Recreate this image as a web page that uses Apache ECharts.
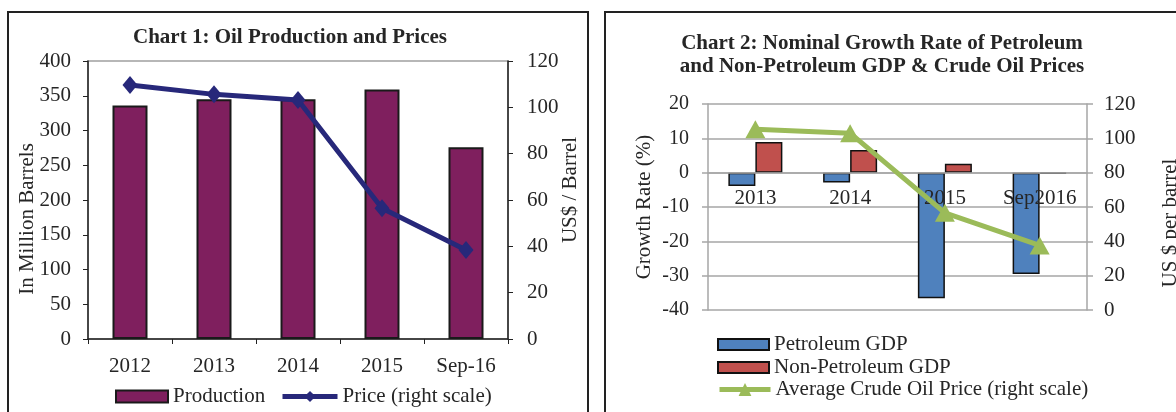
<!DOCTYPE html>
<html>
<head>
<meta charset="utf-8">
<script src="https://cdn.jsdelivr.net/npm/echarts@6/dist/echarts.min.js"></script>
<style>
  html, body { margin: 0; padding: 0; background: #fff; }
  #main { width: 1176px; height: 412px; }
</style>
</head>
<body>
<div id="main"></div>
<script>
// chart 1 data
var years1 = ['2012', '2013', '2014', '2015', 'Sep-16'];
var production = [336, 345, 345, 359, 276];
var price1 = [109.6, 105.6, 103.2, 56.4, 38.4];

// chart 2 data
var years2 = ['2013', '2014', '2015', 'Sep2016'];
var petroleumGdp = [-3.9, -2.9, -36.6, -29.5];
var nonPetroleumGdp = [8.9, 6.6, 2.6, -0.3];
var price2 = [105.3, 103, 56.6, 37.6];
var gdpMin = -40, gdpMax = 20;

var serif = 'Liberation Serif';
var ink = '#262626';
var gray = '#A6A6A6';

var grid2Height = 206;
// category axis of chart 2 sits on the 0 % line
var zeroOffset = -(0 - gdpMin) / (gdpMax - gdpMin) * grid2Height;

var myChart = echarts.init(document.getElementById('main'));

function label(size, margin) {
    return { fontFamily: serif, fontSize: size, color: ink, margin: margin };
}

function vText(txt, x, y) {
    return {
        type: 'text', x: x, y: y, rotation: Math.PI / 2,
        style: { text: txt, fontFamily: serif, fontSize: 21, fill: ink, align: 'center', verticalAlign: 'middle' }
    };
}

var legendText = { fontFamily: serif, fontSize: 21, color: ink };

var option = {
    animation: false,
    graphic: [
        { type: 'rect', shape: { x: 8, y: 12, width: 580, height: 420 }, style: { fill: 'none', stroke: '#222', lineWidth: 2 } },
        { type: 'rect', shape: { x: 605, y: 12, width: 600, height: 420 }, style: { fill: 'none', stroke: '#222', lineWidth: 2 } },
        {
            type: 'text', x: 290, y: 38,
            style: { text: 'Chart 1: Oil Production and Prices', fontFamily: serif, fontWeight: 'bold', fontSize: 21, fill: ink, align: 'center', verticalAlign: 'middle' }
        },
        {
            type: 'text', x: 882, y: 55,
            style: { text: 'Chart 2: Nominal Growth Rate of Petroleum\nand Non-Petroleum GDP & Crude Oil Prices', fontFamily: serif, fontWeight: 'bold', fontSize: 21, lineHeight: 23, fill: ink, align: 'center', verticalAlign: 'middle' }
        },
        vText('In Million Barrels', 27, 219),
        vText('US$ / Barrel', 570, 190),
        vText('Growth Rate (%)', 644, 207),
        vText('US $ per barrel', 1170, 223)
    ],
    legend: [
        {
            data: ['Production'], icon: 'rect',
            left: 115, top: 386, padding: 0,
            itemWidth: 52, itemHeight: 12,
            textStyle: legendText
        },
        {
            data: [{ name: 'Price (right scale)', lineStyle: { width: 5 } }],
            left: 280, top: 386, padding: 0,
            itemWidth: 55, itemHeight: 14,
            textStyle: legendText
        },
        {
            data: ['Petroleum GDP', 'Non-Petroleum GDP'], icon: 'rect',
            orient: 'vertical',
            left: 717, top: 334, padding: 0,
            itemWidth: 51, itemHeight: 11, itemGap: 2,
            textStyle: legendText
        },
        {
            data: [{ name: 'Average Crude Oil Price (right scale)', lineStyle: { width: 5 } }],
            left: 717, top: 379, padding: 0,
            itemWidth: 51, itemHeight: 16,
            textStyle: legendText
        }
    ],
    grid: [
        { left: 88, top: 61, width: 420, height: 278, show: true, borderColor: '#A0A0A0', borderWidth: 1.5 },
        { left: 708, top: 104, width: 379, height: grid2Height }
    ],
    xAxis: [
        {
            gridIndex: 0, type: 'category', data: years1,
            axisLine: { lineStyle: { color: '#222', width: 1.5 } },
            axisTick: { show: true, length: 5, lineStyle: { color: '#222' } },
            axisLabel: label(21, 17)
        },
        {
            gridIndex: 1, type: 'category', data: years2, z: 3,
            position: 'bottom', offset: zeroOffset,
            axisLine: { onZero: false, lineStyle: { color: gray, width: 1.5 } },
            axisTick: { show: false },
            axisLabel: Object.assign(label(21, 15), { interval: 0 })
        }
    ],
    yAxis: [
        {
            gridIndex: 0, type: 'value', min: 0, max: 400, interval: 50,
            axisLine: { show: true, lineStyle: { color: '#222', width: 1.5 } },
            axisTick: { show: true, length: 5, lineStyle: { color: '#222' } },
            splitLine: { show: false },
            axisLabel: label(21, 17)
        },
        {
            gridIndex: 0, type: 'value', position: 'right', min: 0, max: 120, interval: 20,
            axisLine: { show: true, lineStyle: { color: '#222', width: 1.5 } },
            axisTick: { show: true, length: 5, lineStyle: { color: '#222' } },
            splitLine: { show: false },
            axisLabel: label(21, 19)
        },
        {
            gridIndex: 1, type: 'value', min: gdpMin, max: gdpMax, interval: 10,
            axisLine: { show: true, lineStyle: { color: gray, width: 1.5 } },
            axisTick: { show: true, length: 6, lineStyle: { color: gray, width: 1.5 } },
            splitLine: { show: true, lineStyle: { color: gray, width: 1.5 } },
            axisLabel: label(20, 19)
        },
        {
            gridIndex: 1, type: 'value', position: 'right', min: 0, max: 120, interval: 20,
            axisLine: { show: true, lineStyle: { color: gray, width: 1.5 } },
            axisTick: { show: true, length: 6, lineStyle: { color: gray, width: 1.5 } },
            splitLine: { show: false },
            axisLabel: label(21, 17)
        }
    ],
    series: [
        {
            name: 'Production', type: 'bar', xAxisIndex: 0, yAxisIndex: 0,
            data: production, barWidth: 35,
            itemStyle: { color: '#7F1F5E', borderColor: '#1a1a1a', borderWidth: 2 }
        },
        {
            name: 'Price (right scale)', type: 'line', xAxisIndex: 0, yAxisIndex: 1,
            data: price1, color: '#27287A',
            lineStyle: { width: 5 },
            symbol: 'diamond', symbolSize: [15, 18]
        },
        {
            name: 'Petroleum GDP', type: 'bar', xAxisIndex: 1, yAxisIndex: 2,
            data: petroleumGdp, barWidth: 27, barGap: '0%',
            itemStyle: { color: '#4F81BD', borderColor: '#111', borderWidth: 1.5 }
        },
        {
            name: 'Non-Petroleum GDP', type: 'bar', xAxisIndex: 1, yAxisIndex: 2,
            data: nonPetroleumGdp, barWidth: 27, barGap: '0%',
            itemStyle: { color: '#C0504D', borderColor: '#111', borderWidth: 1.5 }
        },
        {
            name: 'Average Crude Oil Price (right scale)', type: 'line', xAxisIndex: 1, yAxisIndex: 3,
            data: price2, color: '#9BBB59', z: 4,
            lineStyle: { width: 5 },
            symbol: 'triangle', symbolSize: [20, 18]
        }
    ]
};

myChart.setOption(option);
</script>
</body>
</html>
